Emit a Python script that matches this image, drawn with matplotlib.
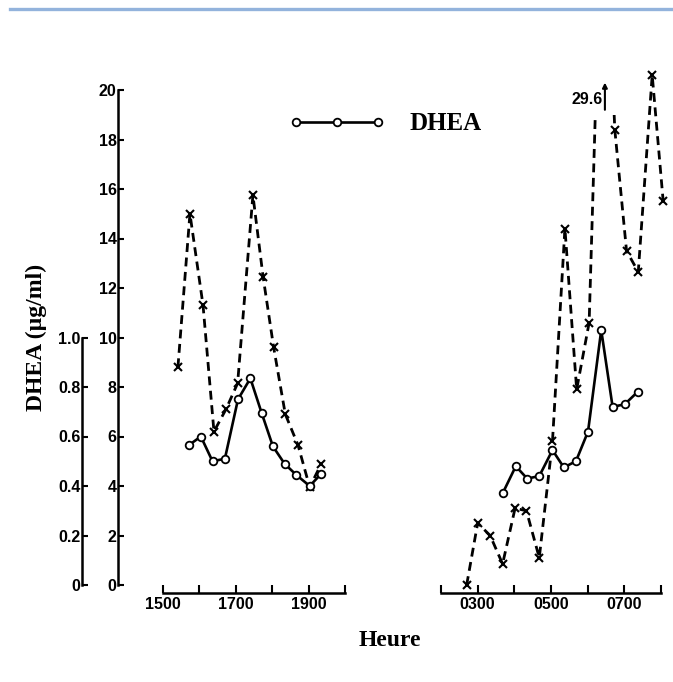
import numpy as np
import matplotlib.pyplot as plt
from matplotlib.lines import Line2D
from matplotlib.patches import Rectangle

# evening samples (hours, 15 = 1500)
eve_t_x = [15.41, 15.74, 16.10, 16.40, 16.73, 17.05, 17.47, 17.75, 18.04, 18.36, 18.71, 19.03, 19.35]
eve_v_x = [8.8, 15.0, 11.3, 6.2, 7.1, 8.15, 15.75, 12.45, 9.6, 6.9, 5.65, 3.95, 4.9]
eve_t_o = [15.71, 16.04, 16.36, 16.70, 17.06, 17.40, 17.71, 18.02, 18.34, 18.66, 19.03, 19.35]
eve_dhea = [0.565, 0.60, 0.50, 0.51, 0.75, 0.835, 0.695, 0.56, 0.49, 0.445, 0.40, 0.45]

# morning samples (hours, 3 = 0300)
morn_t_x = [2.70, 3.00, 3.34, 3.68, 4.02, 4.33, 4.68, 5.04, 5.38, 5.70, 6.04, 6.42,
            6.74, 7.06, 7.38, 7.76, 8.06]
morn_v_x = [0.0, 2.5, 2.0, 0.85, 3.1, 3.0, 1.1, 5.8, 14.4, 7.9, 10.6, 29.6,
            18.4, 13.5, 12.65, 20.6, 15.5]
morn_t_o = [3.68, 4.04, 4.35, 4.68, 5.04, 5.35, 5.68, 6.01, 6.37, 6.68, 7.01, 7.36]
morn_dhea = [0.37, 0.48, 0.43, 0.44, 0.545, 0.475, 0.50, 0.62, 1.03, 0.72, 0.73, 0.78]

eve_ticks = [15, 16, 17, 18, 19, 20]
eve_labels = ["1500", "", "1700", "", "1900", ""]
morn_ticks = [2, 3, 4, 5, 6, 7, 8]
morn_labels = ["", "0300", "", "0500", "", "0700", ""]

tick_font = dict(family="Liberation Sans", weight="bold", size=11.5)
lab_font = dict(family="Liberation Serif", weight="bold", size=17)

dash_kw = dict(color="black", lw=2.0, ls=(0, (3.2, 2.0)))
x_kw = dict(ls="none", marker="x", ms=6, mew=1.5, color="black", clip_on=False)
o_kw = dict(color="black", lw=1.9, marker="o", ms=5.5, mew=1.3, mfc="white", clip_on=False)

W, H = 673, 682
fig = plt.figure(figsize=(W / 100, H / 100), dpi=100)

bot = (H - 585) / H
hgt = (585 - 90) / H
ax1 = fig.add_axes([163 / W, bot, (345 - 163) / W, hgt])
ax2 = fig.add_axes([441 / W, bot, (661 - 441) / W, hgt])
ax1b = ax1.twinx()
ax2b = ax2.twinx()

for ax in (ax1, ax2, ax1b, ax2b):
    ax.patch.set_visible(False)
    for s in ax.spines.values():
        s.set_visible(False)
    ax.set_ylim(0, 20)
ax1b.set_ylim(0, 2)
ax2b.set_ylim(0, 2)
ax1.set_xlim(15, 20)
ax2.set_xlim(2, 8)

# y axes on the far left
ax1.spines["left"].set_visible(True)
ax1.spines["left"].set_position(("outward", (163 - 118) * 0.72))
ax1.spines["left"].set_bounds(0, 20)
ax1.spines["left"].set_linewidth(1.8)
ax1.set_yticks(range(0, 21, 2))
ax1.set_yticklabels([str(v) for v in range(0, 21, 2)], fontdict=tick_font)
ax1.tick_params(axis="y", direction="in", length=4, width=1.5, pad=1)

ax1b.yaxis.set_ticks_position("left")
ax1b.spines["left"].set_visible(True)
ax1b.spines["left"].set_position(("outward", (163 - 82) * 0.72))
ax1b.spines["left"].set_bounds(0, 1)
ax1b.spines["left"].set_linewidth(1.8)
ax1b.set_yticks([0, 0.2, 0.4, 0.6, 0.8, 1.0])
ax1b.set_yticklabels(["0", "0.2", "0.4", "0.6", "0.8", "1.0"], fontdict=tick_font)
ax1b.tick_params(axis="y", direction="in", length=4, width=1.5, pad=1,
                 left=True, labelleft=True, right=False, labelright=False)
ax1b.set_ylabel("DHEA (µg/ml)", fontdict=lab_font, labelpad=8)
ax1b.yaxis.set_label_position("left")

for ax, ticks, labels in ((ax1, eve_ticks, eve_labels), (ax2, morn_ticks, morn_labels)):
    ax.spines["bottom"].set_visible(True)
    ax.spines["bottom"].set_position(("outward", 8 * 0.72))
    ax.spines["bottom"].set_linewidth(1.8)
    ax.set_xticks(ticks)
    ax.set_xticklabels(labels, fontdict=tick_font)
    ax.tick_params(axis="x", direction="in", length=5.5, width=1.5, pad=3)
ax2.tick_params(axis="y", left=False, labelleft=False)
ax2b.tick_params(axis="y", right=False, labelright=False)

# evening
ax1.plot(eve_t_x, eve_v_x, **dash_kw)
ax1.plot(eve_t_x, eve_v_x, **x_kw)
line_o, = ax1b.plot(eve_t_o, eve_dhea, label="DHEA", **o_kw)

# morning: the off-scale peak is cut and marked with an arrow
pk = int(np.argmax(morn_v_x))
seg_a, = ax2.plot(morn_t_x[:pk + 2], morn_v_x[:pk + 2], **dash_kw)
seg_a.set_clip_path(Rectangle((1.5, -1), 7, 20.0, transform=ax2.transData))
ax2.plot(morn_t_x[pk + 1:], morn_v_x[pk + 1:], clip_on=False, **dash_kw)
keep = [i for i in range(len(morn_t_x)) if i != pk]
ax2.plot([morn_t_x[i] for i in keep], [morn_v_x[i] for i in keep], **x_kw)
ax2b.plot(morn_t_o, morn_dhea, **o_kw)
ax2.annotate("", xy=(morn_t_x[pk] + 0.05, 20.3), xytext=(morn_t_x[pk] + 0.05, 19.2),
             arrowprops=dict(arrowstyle="-|>", color="black", lw=1.5,
                             mutation_scale=7, shrinkA=0, shrinkB=0),
             annotation_clip=False)
ax2.text(morn_t_x[pk] - 0.02, 19.6, f"{morn_v_x[pk]:.1f}", ha="right", va="center",
         fontdict=tick_font, clip_on=False)

fig.text(390 / W, 1 - 640 / H, "Heure", ha="center", va="center", fontdict=lab_font)

fig.legend(handles=[line_o], loc="center left", bbox_to_anchor=(288 / W, 1 - 124 / H),
           frameon=False, numpoints=3, handlelength=3.9, handletextpad=0.95,
           borderpad=0, borderaxespad=0,
           prop=dict(family="Liberation Serif", weight="bold", size=18))

fig.add_artist(Line2D([10 / W, 1.0], [1 - 9 / H, 1 - 9 / H], transform=fig.transFigure,
                      color="#93b3dc", lw=2.4))

fig.savefig("out.png", dpi=100)
